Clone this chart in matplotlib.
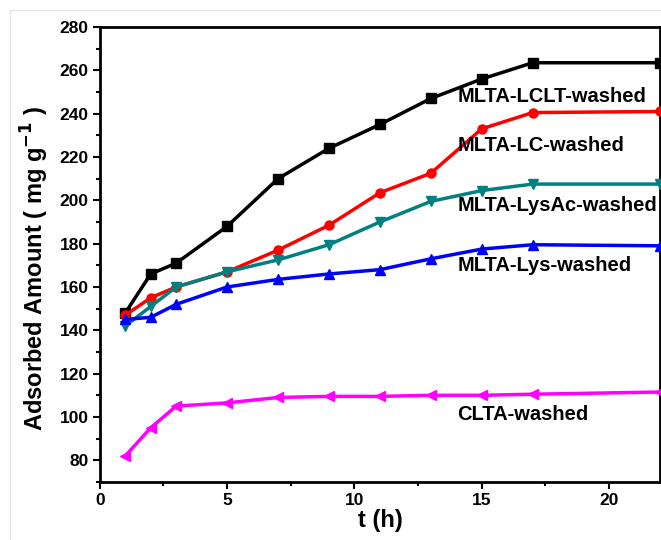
import matplotlib
matplotlib.use("Agg")
import matplotlib.pyplot as plt
from matplotlib.ticker import MultipleLocator
from matplotlib.patches import Rectangle

plt.rcParams['font.family'] = ['Liberation Sans', 'DejaVu Sans']
plt.rcParams['font.weight'] = 'bold'

t = [1, 2, 3, 5, 7, 9, 11, 13, 15, 17, 22]
lclt = [148, 166, 171, 188, 210, 224, 235, 247, 256, 263.5, 263.5]
lc = [147, 155, 160, 167, 177, 188.5, 203.5, 212.5, 233, 240.5, 241]
lysac = [142, 151, 160, 167, 172.5, 179.5, 190, 199.5, 204.5, 207.5, 207.5]
lys = [145, 146, 152, 160, 163.5, 166, 168, 173, 177.5, 179.5, 179]
clta = [82, 95, 105, 106.5, 109, 109.5, 109.5, 110, 110, 110.5, 111.5]

names = ["MLTA-LCLT-washed", "MLTA-LC-washed", "MLTA-LysAc-washed", "MLTA-Lys-washed", "CLTA-washed"]
label_y = [248, 225.5, 197.5, 170, 101]

fig = plt.figure(figsize=(6.61, 5.40), dpi=100)
fig.patches.append(Rectangle((10 / 661, -0.1), 1.2, (530 / 540) + 0.1, transform=fig.transFigure,
                             fill=False, edgecolor='#e6e6e6', linewidth=1))
ax = fig.add_axes([0.151, 0.1075, 0.8475, 0.8425])

series = [(lclt, 'black', 's'), (lc, '#ff0000', 'o'), (lysac, '#008080', 'v'),
          (lys, '#0000ff', '^'), (clta, '#ff00ff', '<')]
for (ys, c, m) in series:
    ax.plot(t, ys, color=c, marker=m, markersize=6.5, linewidth=2.5, clip_on=False, zorder=3)

for name, y in zip(names, label_y):
    ax.text(14.05, y, name, fontsize=14.5, fontweight='bold', va='center', ha='left')

ax.set_xlim(0, 22)
ax.set_ylim(70, 280)
ax.xaxis.set_major_locator(MultipleLocator(5))
ax.xaxis.set_minor_locator(MultipleLocator(2.5))
ax.yaxis.set_major_locator(MultipleLocator(20))
ax.yaxis.set_minor_locator(MultipleLocator(10))
ax.tick_params(which='major', direction='out', length=5, width=1.5, labelsize=12.5, pad=3)
ax.tick_params(which='minor', direction='out', length=3, width=1.5)
for lab in ax.get_xticklabels() + ax.get_yticklabels():
    lab.set_fontweight('bold')
for s in ax.spines.values():
    s.set_linewidth(2)

ax.set_xlabel('t (h)', fontsize=17, fontweight='bold', labelpad=1)
ax.set_ylabel('Adsorbed Amount ( mg g$^{\\mathbf{-1}}$ )', fontsize=17, fontweight='bold')
ax.yaxis.set_label_coords(-0.087, 0.47)

fig.savefig('out.png', dpi=100)
